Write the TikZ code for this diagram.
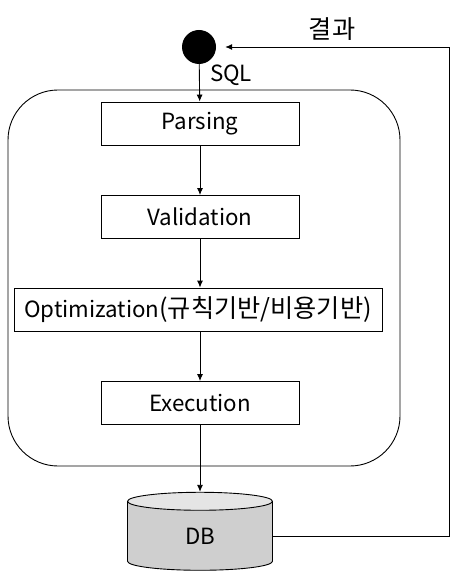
\documentclass[tikz,border=0pt]{standalone}
\usepackage{fontspec}
\setmainfont{Noto Sans CJK KR}
\newfontfamily\hangul[Scale=1.13]{Noto Sans CJK KR}
\usetikzlibrary{arrows.meta,shapes.geometric}
\tikzset{
  step box/.style={draw,rectangle,line width=0.9pt,minimum width=198pt,minimum height=43pt,inner sep=0pt},
  flow/.style={-{Latex[length=7pt,width=6pt]},line width=0.9pt},
}
\begin{document}
\begin{tikzpicture}[x=1pt,y=-1pt,font=\fontsize{22.3}{25}\selectfont]
  \useasboundingbox (0,0) rectangle (463,588);
  \node (engine) at (204,278) [draw,rectangle,rounded corners=50pt,line width=0.9pt,minimum width=392pt,minimum height=376pt] {};
  \node (start) at (199,47) [circle,fill=black,minimum size=34pt,inner sep=0pt] {};
  \node (SQL) at (231,75) {SQL};
  \node (result) at (332,29) {\hangul 결과};
  \node (Parsing) at (200,123.5) [step box] {Parsing};
  \node (Validation) at (200,217) [step box] {Validation};
  \node (Optimization) at (198,309.5) [step box,minimum width=368pt] {Optimization{\hangul(규칙기반/비용기반)}};
  \node (Execution) at (200,403) [step box] {Execution};
  \node (DB) at (200,536) [draw,cylinder,shape border rotate=90,aspect=0.6,line width=0.9pt,
    minimum width=145pt,minimum height=78pt,inner sep=0pt,
    cylinder uses custom fill,cylinder body fill=black!19,cylinder end fill=black!10] {DB};
  \coordinate (turn) at (449,47);
  \draw [flow] (start) -- (Parsing);
  \draw [flow] (Parsing) -- (Validation);
  \draw [flow] (Validation) -- (Optimization.north -| Validation.south);
  \draw [flow] (Optimization.south -| Execution.north) -- (Execution);
  \draw [flow] (Execution) -- (DB);
  \draw [flow,shorten >=9pt] (DB.east) -| (turn) -- (start.east);
\end{tikzpicture}
\end{document}
